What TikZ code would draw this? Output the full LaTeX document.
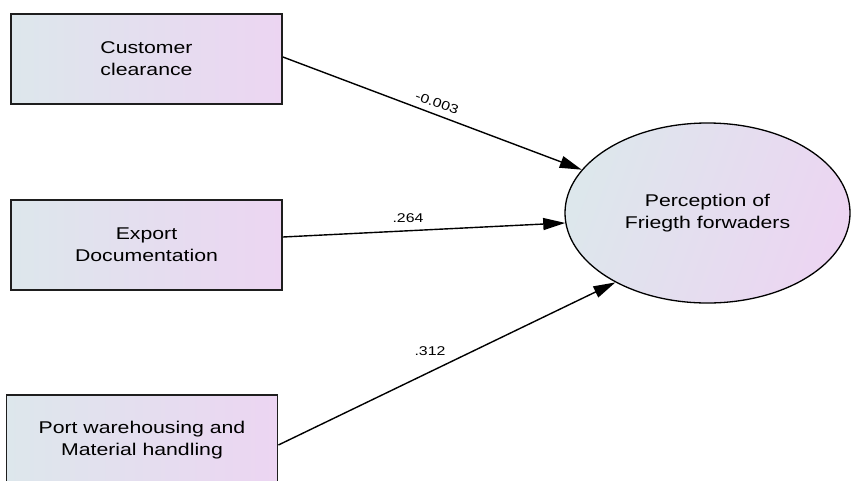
\documentclass[tikz,border=0pt]{standalone}
\usepackage{fontspec}
\setmainfont{Liberation Sans}
\newfontfamily\lbfont[FakeStretch=1.25]{Liberation Sans}
\usetikzlibrary{arrows.meta,shapes.geometric,calc}
\definecolor{shadeL}{RGB}{221,231,236}
\definecolor{shadeR}{RGB}{236,213,242}
\definecolor{edgecol}{RGB}{30,30,30}
\tikzset{
  varbox/.style={draw=edgecol, line width=1.8pt, minimum width=271pt, minimum height=90pt,
    left color=shadeL, right color=shadeR, align=center, inner sep=0pt,
    font=\lbfont\fontsize{17}{22}\selectfont},
  latent/.style={ellipse, draw=black, line width=1.3pt, minimum width=285pt, minimum height=180pt,
    left color=shadeL, right color=shadeR, shading angle=70, align=center, inner sep=0pt,
    font=\lbfont\fontsize{17}{22}\selectfont},
  arr/.style={line width=1.4pt, -{Triangle[length=22pt,width=12pt]}},
  coef/.style={font=\lbfont\fontsize{12.7}{14}\selectfont, inner sep=0pt}
}
\begin{document}
\begin{tikzpicture}[x=1pt,y=-1pt]
\useasboundingbox (0,0) rectangle (851,480);
\node[varbox] (b1) at (146.5,59) {Customer\\clearance};
\node[varbox] (b2) at (146.5,245) {Export\\Documentation};
\node[varbox] (b3) at (142,440) {Port warehousing and\\Material handling};
\node[latent] (pf) at (707.5,213) {Perception of\\Friegth forwaders};
\coordinate (s1) at ($(b1.east)+(0,-2)$);
\coordinate (s2) at ($(b2.east)+(0,-8)$);
\coordinate (s3) at ($(b3.east)+(0,5)$);
\draw[arr] (s1) -- (pf.161);
\draw[arr] (s2) -- (pf.184.8);
\draw[arr] (s3) -- (pf.217.6);
\node[coef, rotate=-20.5] (c1) at (437,103) {-0.003};
\node[coef] (c2) at (408,218) {.264};
\node[coef] (c3) at (430,351) {.312};
\end{tikzpicture}
\end{document}
